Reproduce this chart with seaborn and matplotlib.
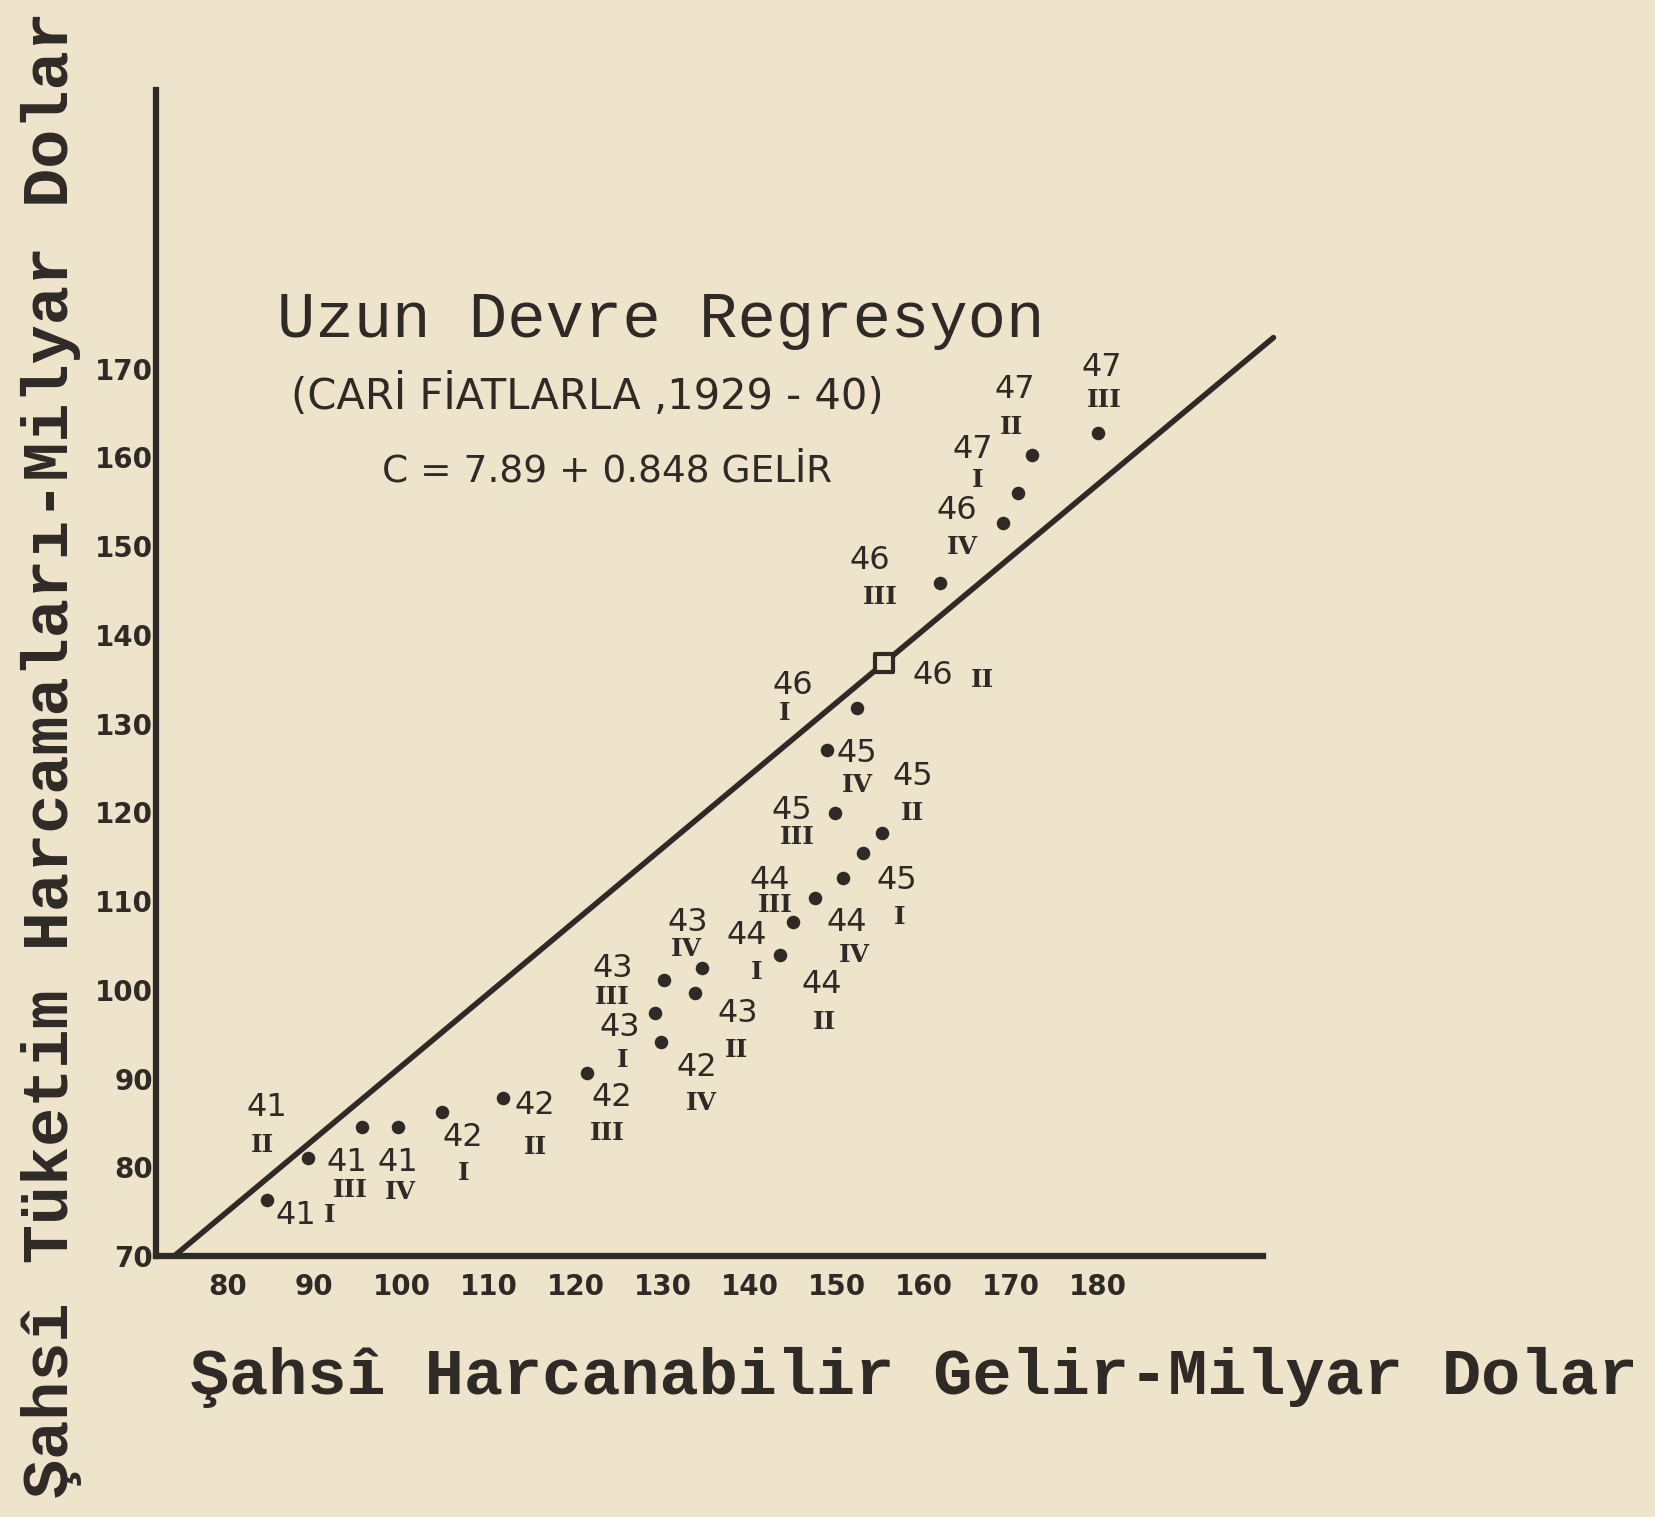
import numpy as np
import pandas as pd
import matplotlib
matplotlib.use('Agg')
import matplotlib.pyplot as plt
import seaborn as sns
sns.set_style('white')
plt.rcParams['font.family'] = ['DejaVu Sans']

# quarterly observations 1941 I - 1947 III, billion dollars
years = ['41', '41', '41', '41', '42', '42', '42', '42', '43', '43', '43', '43', '44', '44',
         '44', '44', '45', '45', '45', '45', '46', '46', '46', '46', '47', '47', '47']
quarters = ['I', 'II', 'III', 'IV'] * 6 + ['I', 'II', 'III']
income = [84.6, 89.3, 95.5, 99.6, 104.7, 111.7, 121.3, 129.8, 129.1, 133.7, 130.2, 134.5, 143.5, 147.5,
          145.0, 150.7, 153.0, 155.2, 149.8, 148.9, 152.4, 155.5, 161.9, 169.1, 170.8, 172.5, 180.0]
consumption = [76.3, 81.0, 84.5, 84.5, 86.2, 87.8, 90.6, 94.1, 97.4, 99.6, 101.1, 102.5, 103.9, 110.4,
               107.6, 112.6, 115.4, 117.7, 119.9, 127.0, 131.7, 136.8, 145.8, 152.6, 156.0, 160.3, 162.7]

# long-run regression line as drawn (end points)
line_x = [73.9, 200.2]
line_y = [70.0, 173.5]

x_ticks = list(range(80, 181, 10))
y_ticks = list(range(70, 171, 10))

# label placement, pixels from the dot (right, down): year number, quarter numeral
year_off = [(28, 15), (-41, -51), (-15, 35), (0, 35), (21, 25), (32, 7), (25, 24), (36, 25), (-35, 15),
            (43, 20), (-51, -12), (-14, -45), (-33, -20), (7, 87), (-23, -42), (4, 45), (34, 27), (31, -56),
            (-43, -3), (30, 3), (-65, -23), (48, 12), (-70, -23), (-46, -13), (-45, -43), (-18, -65), (4, -66)]
quarter_off = [(62, 15), (-46, -13), (-12, 63), (2, 65), (21, 61), (32, 49), (21, 60), (41, 61), (-32, 47),
               (42, 57), (-52, 17), (-15, -19), (-23, 17), (10, 124), (-18, -17), (12, 77), (37, 64), (31, -20),
               (-38, 24), (30, 35), (-73, 5), (98, 17), (-60, 14), (-40, 24), (-40, -13), (-21, -28), (7, -33)]

ink = '#2f2a26'
paper = '#eee4cb'

df = pd.DataFrame({'income': income, 'consumption': consumption, 'year': years, 'quarter': quarters})
df['label'] = df['year'] + ' ' + df['quarter']
dots = df[df['label'] != '46 II']
boxed = df[df['label'] == '46 II']

W, H = 1655, 1517
fig = plt.figure(figsize=(W / 100, H / 100), dpi=100, facecolor=paper)
ax = fig.add_axes([156 / W, 1 - 1256 / H, (1263 - 156) / W, (1256 - 90) / H])
ax.set_facecolor(paper)

sns.lineplot(x=line_x, y=line_y, ax=ax, color=ink, linewidth=4, clip_on=False)
sns.scatterplot(data=dots, x='income', y='consumption', ax=ax, color=ink, s=95, edgecolor=ink, linewidth=0)
sns.scatterplot(data=boxed, x='income', y='consumption', ax=ax, marker='s', s=150,
                facecolor=paper, edgecolor=ink, linewidth=3, zorder=5)

for i, row in df.iterrows():
    dx, dy = year_off[i]
    ax.annotate(row['year'], xy=(row['income'], row['consumption']), xytext=(dx, -dy),
                textcoords='offset pixels', ha='center', va='center', fontsize=23, color=ink)
    dx, dy = quarter_off[i]
    ax.annotate(row['quarter'], xy=(row['income'], row['consumption']), xytext=(dx, -dy),
                textcoords='offset pixels', ha='center', va='center', fontsize=18, color=ink,
                fontweight='bold', family='DejaVu Serif')

ax.set_xlim(71.8, 199.0)
ax.set_ylim(70.0, 201.4)
ax.set_xticks(x_ticks)
ax.set_yticks(y_ticks)
ax.set_xlabel('')
ax.set_ylabel('')
ax.tick_params(direction='in', length=9, width=2, colors=ink, labelsize=20)
ax.tick_params(axis='x', pad=12)
ax.tick_params(axis='y', pad=2)
for lab in ax.get_xticklabels() + ax.get_yticklabels():
    lab.set_fontweight('bold')
for side in ['top', 'right']:
    ax.spines[side].set_visible(False)
for side in ['left', 'bottom']:
    ax.spines[side].set_linewidth(4.5)
    ax.spines[side].set_color(ink)

# texts
fig.text(661 / W, 1 - 320 / H, 'Uzun Devre Regresyon', ha='center', va='center',
         fontsize=46, family='Liberation Mono', color=ink)
fig.text(587 / W, 1 - 396 / H, '(CARİ FİATLARLA ,1929 - 40)', ha='center', va='center',
         fontsize=30, color=ink)
fig.text(607 / W, 1 - 472 / H, 'C = 7.89 + 0.848 GELİR', ha='center', va='center',
         fontsize=27, color=ink)
fig.text(914 / W, 1 - 1377 / H, 'Şahsî Harcanabilir Gelir-Milyar Dolar', ha='center', va='center',
         fontsize=47, family='Liberation Mono', fontweight='bold', color=ink)
fig.text(51 / W, 1 - 755 / H, 'Şahsî Tüketim Harcamaları-Milyar Dolar', ha='center', va='center',
         rotation=90, fontsize=47, family='Liberation Mono', fontweight='bold', color=ink)

fig.savefig('out.png', dpi=100, facecolor=paper)
